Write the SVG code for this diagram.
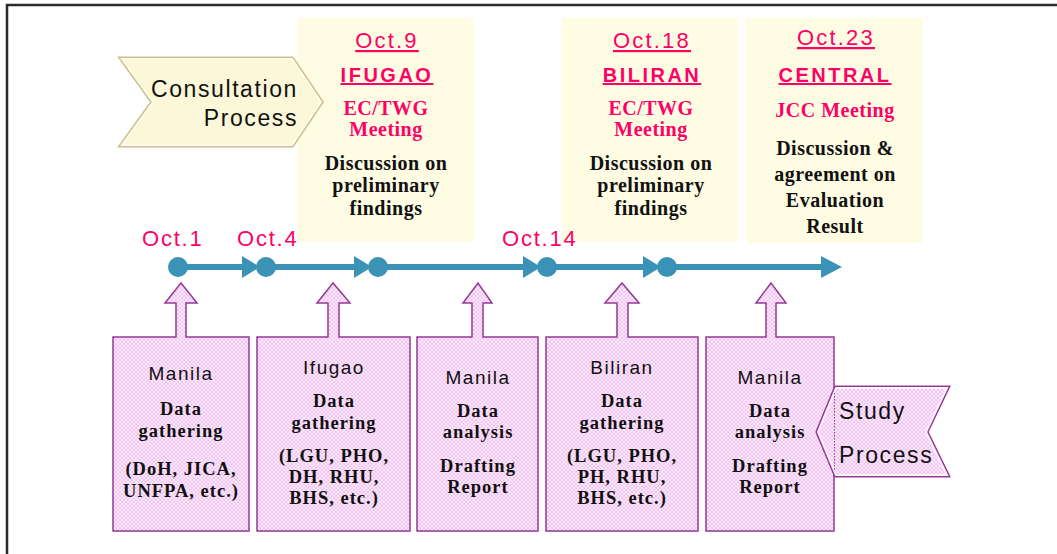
<svg xmlns="http://www.w3.org/2000/svg" width="1057" height="554" viewBox="0 0 1057 554">
  <defs>
    <pattern id="pinkCheck" width="4" height="4" patternUnits="userSpaceOnUse">
      <rect width="4" height="4" fill="#FFEEFF"/>
      <path d="M0,0 L4,4 M4,0 L0,4" stroke="#F3C2F3" stroke-width="1"/>
    </pattern>
    <marker id="tri" markerUnits="userSpaceOnUse" markerWidth="20" markerHeight="24" refX="12" refY="11" orient="auto" viewBox="0 0 20 24">
      <path d="M0,0 L18,11 L0,22 Z" fill="#3A93B6"/>
    </marker>
    <marker id="triEnd" markerUnits="userSpaceOnUse" markerWidth="24" markerHeight="24" refX="15" refY="11" orient="auto" viewBox="0 0 24 24">
      <path d="M0,0 L21,11 L0,22 Z" fill="#3A93B6"/>
    </marker>
  </defs>
  <style>
    .frame { fill: none; stroke: #2b2b2b; stroke-width: 2.5; }
    .meet { fill: #FEFCE3; }
    .date { font-family: "Liberation Sans", Arial, sans-serif; font-size: 22px; fill: #FF0066; letter-spacing: 2.2px; text-anchor: middle; }
    .place { font-family: "Liberation Sans", Arial, sans-serif; font-size: 20px; font-weight: bold; fill: #FF0066; letter-spacing: 2.5px; text-anchor: middle; text-decoration: underline; }
    .kind { font-family: "Liberation Serif", "Times New Roman", serif; font-size: 20px; font-weight: bold; fill: #FF0066; letter-spacing: 0.5px; text-anchor: middle; }
    .topic { font-family: "Liberation Serif", "Times New Roman", serif; font-size: 20px; font-weight: bold; fill: #111; letter-spacing: 0.5px; text-anchor: middle; }
    .work { fill: url(#pinkCheck); stroke: #943A94; stroke-width: 1.5; }
    .site { font-family: "Liberation Sans", Arial, sans-serif; font-size: 19px; fill: #111; letter-spacing: 1.5px; text-anchor: middle; }
    .task { font-family: "Liberation Serif", "Times New Roman", serif; font-size: 18.5px; font-weight: bold; fill: #111; letter-spacing: 1px; text-anchor: middle; }
    .flagtxt { font-family: "Liberation Sans", Arial, sans-serif; font-size: 23px; fill: #111; letter-spacing: 1.6px; }
    .tl { fill: none; stroke: #3A93B6; stroke-width: 6; }
    .dot { fill: #3A93B6; }
    .tick { font-family: "Liberation Sans", Arial, sans-serif; font-size: 22px; fill: #FF0066; letter-spacing: 1.8px; }
  </style>

  <rect class="frame" x="7" y="5" width="1070" height="570"/>

  <!-- meeting boxes -->
  <g id="meeting-ifugao">
    <rect class="meet" x="297" y="18" width="177" height="224"/>
    <text class="date" x="387" y="48" text-decoration="underline">Oct.9</text>
    <text class="place" x="387" y="82">IFUGAO</text>
    <text class="kind" x="386" y="115">EC/TWG</text>
    <text class="kind" x="386" y="136">Meeting</text>
    <text class="topic" x="386" y="170">Discussion on</text>
    <text class="topic" x="386" y="192">preliminary</text>
    <text class="topic" x="386" y="215">findings</text>
  </g>
  <g id="meeting-biliran">
    <rect class="meet" x="562" y="18" width="176" height="224"/>
    <text class="date" x="652" y="48" text-decoration="underline">Oct.18</text>
    <text class="place" x="652" y="82">BILIRAN</text>
    <text class="kind" x="651" y="115">EC/TWG</text>
    <text class="kind" x="651" y="136">Meeting</text>
    <text class="topic" x="651" y="170">Discussion on</text>
    <text class="topic" x="651" y="192">preliminary</text>
    <text class="topic" x="651" y="215">findings</text>
  </g>
  <g id="meeting-central">
    <rect class="meet" x="746" y="18" width="177" height="225"/>
    <text class="date" x="836" y="45" text-decoration="underline">Oct.23</text>
    <text class="place" x="835" y="82">CENTRAL</text>
    <text class="kind" x="835" y="117">JCC Meeting</text>
    <text class="topic" x="835" y="155">Discussion &amp;</text>
    <text class="topic" x="835" y="181">agreement on</text>
    <text class="topic" x="835" y="207">Evaluation</text>
    <text class="topic" x="835" y="233">Result</text>
  </g>

  <!-- consultation flag -->
  <g id="consultation-process">
    <polygon points="122,59 292,59 321,102 292,145 122,145 153,102" fill="#FBF7D8" stroke="#CDBF8E" stroke-width="5" stroke-linejoin="miter"/>
    <polygon points="122,59 292,59 321,102 292,145 122,145 153,102" fill="#FBF7D8" stroke="#FFFCEB" stroke-width="2"/>
    <text class="flagtxt" x="298" y="97" text-anchor="end">Consultation</text>
    <text class="flagtxt" x="298" y="126" text-anchor="end">Process</text>
  </g>

  <!-- timeline -->
  <g id="connectors">
    <path class="tl" d="M178,267 H254" marker-end="url(#tri)"/>
    <path class="tl" d="M266,267 H366" marker-end="url(#tri)"/>
    <path class="tl" d="M378,267 H535" marker-end="url(#tri)"/>
    <path class="tl" d="M547,267 H655" marker-end="url(#tri)"/>
    <path class="tl" d="M667,267 H836" marker-end="url(#triEnd)"/>
  </g>
  <g id="milestones">
    <circle class="dot" cx="178" cy="267" r="10"/>
    <circle class="dot" cx="266" cy="267" r="10"/>
    <circle class="dot" cx="378" cy="267" r="10"/>
    <circle class="dot" cx="547" cy="267" r="10"/>
    <circle class="dot" cx="667" cy="267" r="10"/>
    <text class="tick" x="142" y="246">Oct.1</text>
    <text class="tick" x="237" y="246">Oct.4</text>
    <text class="tick" x="502" y="246">Oct.14</text>
  </g>

  <!-- study work boxes -->
  <g id="work-manila-1">
    <path class="work" d="M113,337 H176 V303 H165 L181,283 L197,303 H186 V337 H249 V531 H113 Z"/>
    <text class="site" x="181" y="380">Manila</text>
    <text class="task" x="181" y="415">Data</text>
    <text class="task" x="181" y="437">gathering</text>
    <text class="task" x="181" y="475">(DoH, JICA,</text>
    <text class="task" x="181" y="497">UNFPA, etc.)</text>
  </g>
  <g id="work-ifugao">
    <path class="work" d="M257,337 H328 V303 H317 L333,283 L350,303 H339 V337 H410 V531 H257 Z"/>
    <text class="site" x="334" y="374">Ifugao</text>
    <text class="task" x="334" y="407">Data</text>
    <text class="task" x="334" y="429">gathering</text>
    <text class="task" x="334" y="462">(LGU, PHO,</text>
    <text class="task" x="334" y="483">DH, RHU,</text>
    <text class="task" x="334" y="504">BHS, etc.)</text>
  </g>
  <g id="work-manila-2">
    <path class="work" d="M417,337 H472 V303 H463 L478,283 L492,303 H483 V337 H538 V531 H417 Z"/>
    <text class="site" x="478" y="384">Manila</text>
    <text class="task" x="478" y="417">Data</text>
    <text class="task" x="478" y="438">analysis</text>
    <text class="task" x="478" y="472">Drafting</text>
    <text class="task" x="478" y="493">Report</text>
  </g>
  <g id="work-biliran">
    <path class="work" d="M546,337 H617 V303 H605 L622,283 L639,303 H628 V337 H698 V531 H546 Z"/>
    <text class="site" x="622" y="374">Biliran</text>
    <text class="task" x="622" y="407">Data</text>
    <text class="task" x="622" y="429">gathering</text>
    <text class="task" x="622" y="462">(LGU, PHO,</text>
    <text class="task" x="622" y="483">PH, RHU,</text>
    <text class="task" x="622" y="504">BHS, etc.)</text>
  </g>
  <g id="work-manila-3">
    <path class="work" d="M706,337 H766 V303 H756 L771,283 L786,303 H776 V337 H834 V531 H706 Z"/>
    <text class="site" x="770" y="384">Manila</text>
    <text class="task" x="770" y="417">Data</text>
    <text class="task" x="770" y="438">analysis</text>
    <text class="task" x="770" y="472">Drafting</text>
    <text class="task" x="770" y="493">Report</text>
  </g>

  <!-- study flag -->
  <g id="study-process">
    <polygon points="836,388 947,388 926,432 947,475 836,475 818,432" fill="url(#pinkCheck)" stroke="#943A94" stroke-width="5"/>
    <polygon points="836,388 947,388 926,432 947,475 836,475 818,432" fill="url(#pinkCheck)" stroke="#FFF2FF" stroke-width="2"/>
    <line x1="834.5" y1="393" x2="834.5" y2="471" stroke="#943A94" stroke-width="1" stroke-dasharray="1.5 1.5"/>
    <text class="flagtxt" x="839" y="419" font-size="22">Study</text>
    <text class="flagtxt" x="839" y="463" font-size="22">Process</text>
  </g>
</svg>
